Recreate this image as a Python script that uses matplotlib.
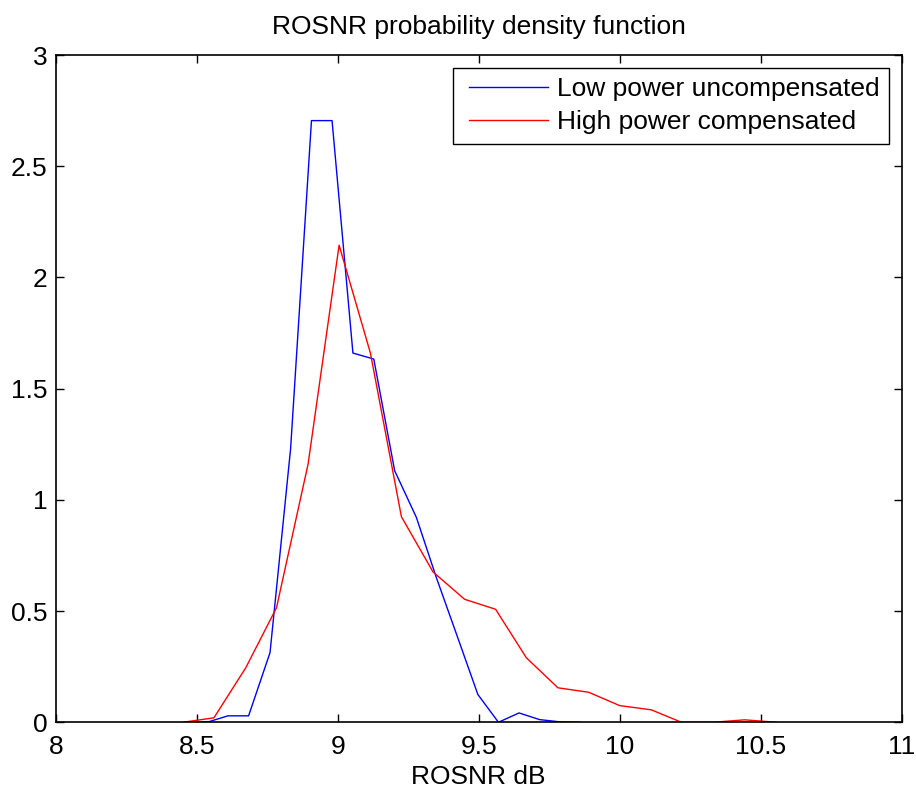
import matplotlib
matplotlib.use("Agg")
import matplotlib.pyplot as plt
from matplotlib.legend_handler import HandlerLine2D

# Low power uncompensated (blue)
low_x = [8.46, 8.544, 8.611, 8.684, 8.760, 8.833, 8.907, 8.980, 9.054, 9.128,
         9.202, 9.279, 9.350, 9.423, 9.497, 9.570, 9.643, 9.716, 9.787, 9.860]
low_y = [0.0, 0.003, 0.029, 0.029, 0.313, 1.23, 2.705, 2.705, 1.66, 1.633,
         1.131, 0.921, 0.65, 0.39, 0.125, 0.0, 0.042, 0.012, 0.002, 0.0]

# High power compensated (red)
high_x = [8.451, 8.561, 8.674, 8.783, 8.895, 9.005, 9.116, 9.226, 9.338, 9.450,
          9.560, 9.669, 9.781, 9.890, 10.000, 10.112, 10.219, 10.331, 10.443, 10.556]
high_y = [0.0, 0.02, 0.245, 0.515, 1.161, 2.145, 1.66, 0.924, 0.676, 0.553,
          0.508, 0.290, 0.155, 0.135, 0.075, 0.056, 0.0, 0.0, 0.011, 0.0]

xticks = [8, 8.5, 9, 9.5, 10, 10.5, 11]
xticklabels = ["8", "8.5", "9", "9.5", "10", "10.5", "11"]
yticks = [0, 0.5, 1, 1.5, 2, 2.5, 3]
yticklabels = ["0", "0.5", "1", "1.5", "2", "2.5", "3"]

plt.rcParams['font.family'] = ['Liberation Sans', 'DejaVu Sans']
FS = 19

fig = plt.figure(figsize=(9.16, 7.88), dpi=100)
ax = fig.add_axes([0.0608, 0.0834, 0.9236, 0.8468])

l1, = ax.plot(low_x, low_y, color='#0000ff', lw=1.0, label='Low power uncompensated')
l2, = ax.plot(high_x, high_y, color='#ff0000', lw=1.0, label='High power compensated')

ax.set_xlim(8, 11)
ax.set_ylim(0, 3)
ax.set_xticks(xticks)
ax.set_xticklabels(xticklabels)
ax.set_yticks(yticks)
ax.set_yticklabels(yticklabels)
ax.tick_params(direction='in', length=6, width=1.0, labelsize=FS,
               top=True, right=True)
ax.tick_params(axis='x', pad=9.5)
ax.tick_params(axis='y', pad=6)
for s in ax.spines.values():
    s.set_linewidth(1.2)

ax.set_title('ROSNR probability density function', fontsize=FS, pad=15)
ax.set_xlabel('ROSNR dB', fontsize=FS, labelpad=4)

hm = {l1: HandlerLine2D(xpad=0.22), l2: HandlerLine2D(xpad=0.22)}
leg = ax.legend(loc='upper right', fontsize=FS, frameon=True, fancybox=False,
                handlelength=3.22, handletextpad=0.34, borderpad=0.35,
                labelspacing=0.34, borderaxespad=0.5, handler_map=hm)
leg.get_frame().set_edgecolor('black')
leg.get_frame().set_linewidth(1.0)
leg.get_frame().set_alpha(1)

fig.savefig('out.png', dpi=100)
